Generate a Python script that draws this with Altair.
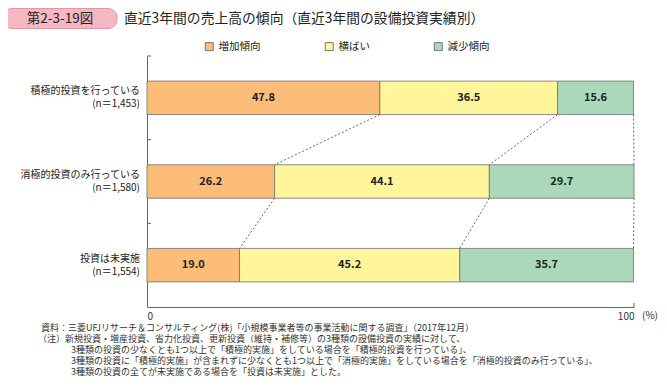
import altair as alt
import pandas as pd

# ---- data ----
categories = ["積極的投資を行っている", "消極的投資のみ行っている", "投資は未実施"]
n_labels = ["(n＝1,453)", "(n＝1,580)", "(n＝1,554)"]
series = ["増加傾向", "横ばい", "減少傾向"]
increase = [47.8, 26.2, 19.0]
flat = [36.5, 44.1, 45.2]
decrease = [15.6, 29.7, 35.7]
x_ticks = [0, 100]
colors = ["#FBBD77", "#FFF59B", "#A9D9B9"]

badge_text = "第2-3-19図"
title_text = "直近3年間の売上高の傾向（直近3年間の設備投資実績別）"
unit_text = "(%)"
notes_a = [
    "資料：三菱UFJリサーチ＆コンサルティング(株)「小規模事業者等の事業活動に関する調査」（2017年12月）",
    "（注）新規投資・増産投資、省力化投資、更新投資（維持・補修等）の3種類の設備投資の実績に対して、",
]
notes_b = [
    "3種類の投資の少なくとも1つ以上で「積極的実施」をしている場合を「積極的投資を行っている」、",
    "3種類の投資に「積極的実施」が含まれずに少なくとも1つ以上で「消極的実施」をしている場合を「消極的投資のみ行っている」、",
    "3種類の投資の全てが未実施である場合を「投資は未実施」とした。",
]

FONT = "Noto Sans CJK JP"
W, H = 487, 251

# ---- tables ----
values = [increase, flat, decrease]
rows = []
cums = []
for i, cat in enumerate(categories):
    start = 0.0
    c = []
    for s, vals in zip(series, values):
        v = vals[i]
        rows.append(dict(cat=cat, idx=i, series=s, value=v, x0=start, x1=start + v,
                         mid=start + v / 2, y0=i - 0.2, y1=i + 0.2, label=f"{v:.1f}"))
        start += v
        c.append(start)
    cums.append(c)
bars_df = pd.DataFrame(rows)

conn = []
for i in range(len(categories) - 1):
    for k in range(len(series)):
        conn.append(dict(x=cums[i][k], x2=cums[i + 1][k], y=i + 0.2, y2=i + 0.8))
conn_df = pd.DataFrame(conn)

cat_df = pd.DataFrame({"cat": categories, "n": n_labels, "idx": list(range(len(categories)))})
ytick_df = pd.DataFrame({"t": [i - 0.5 for i in range(len(categories))]})

xscale = alt.Scale(domain=[0, 100], nice=False, zero=True)
yscale = alt.Scale(domain=[-0.5, len(categories) - 0.5], reverse=True, nice=False, zero=False)

bars = alt.Chart(bars_df).mark_bar(stroke="#707070", strokeWidth=0.8).encode(
    x=alt.X("x0:Q", scale=xscale,
            axis=alt.Axis(values=x_ticks, title=None, ticks=False, grid=False, labelFontSize=10,
                          labelPadding=4, domainColor="#666", labelColor="#333", labelFont=FONT)),
    x2="x1",
    y=alt.Y("y0:Q", scale=yscale,
            axis=alt.Axis(values=[], title=None, labels=False, ticks=False, grid=False, domainColor="#666")),
    y2="y1",
    color=alt.Color("series:N", scale=alt.Scale(domain=series, range=colors),
                    legend=alt.Legend(title=None, orient="none", legendX=57, legendY=-15,
                                      direction="horizontal", symbolType="square", symbolSize=64,
                                      symbolStrokeColor="#777", symbolStrokeWidth=1, symbolOpacity=1,
                                      labelFontSize=10.5, labelFont=FONT, labelColor="#222",
                                      columnPadding=62, labelOffset=4, padding=0)),
)

bar_text = alt.Chart(bars_df).mark_text(font=FONT, fontSize=11, fontWeight=600, color="#222").encode(
    x="mid:Q", y="idx:Q", text="label:N")

connectors = alt.Chart(conn_df).mark_rule(strokeDash=[2, 2], color="#555", strokeWidth=0.9).encode(
    x="x:Q", x2="x2", y="y:Q", y2="y2")

yticks = alt.Chart(ytick_df).mark_rule(color="#666").encode(
    y="t:Q", x=alt.value(0), x2=alt.value(4))

xtick = alt.Chart(pd.DataFrame({"v": [x_ticks[-1]]})).mark_rule(color="#666").encode(
    x="v:Q", y=alt.value(H - 4), y2=alt.value(H))

cat_text = alt.Chart(cat_df).mark_text(font=FONT, fontSize=10, align="right", dy=-6.5, color="#222").encode(
    x=alt.value(-7), y="idx:Q", text="cat:N")
n_text = alt.Chart(cat_df).mark_text(font=FONT, fontSize=10, align="right", dy=6.5, color="#222").encode(
    x=alt.value(-7), y="idx:Q", text="n:N")


def label(text, x, y, size, align="left", color="#222", baseline="middle", **kw):
    return alt.Chart(pd.DataFrame({"t": [text]})).mark_text(
        font=FONT, fontSize=size, align=align, baseline=baseline, color=color, **kw
    ).encode(text="t:N", x=alt.value(x), y=alt.value(y))


badge = alt.Chart(pd.DataFrame({"t": [1]})).mark_rect(
    fill="#F5B8C2", stroke="#E596A5", strokeWidth=1, cornerRadius=9
).encode(x=alt.value(-144), x2=alt.value(-30), y=alt.value(-47.5), y2=alt.value(-27.5))

texts = [
    label(badge_text, -87, -37.3, 13.5, align="center", color="#222"),
    label(title_text, -23, -37.3, 13.8, color="#222"),
    label(unit_text, W + 8, H + 9, 10, color="#333"),
]
NOTE_Y0, NOTE_STEP, NOTE_FS = 272, 11.1, 9
for j, t in enumerate(notes_a):
    texts.append(label(t, -109 if j == 1 else -106, NOTE_Y0 + NOTE_STEP * j, NOTE_FS, color="#333"))
for j, t in enumerate(notes_b):
    texts.append(label(t, -76, NOTE_Y0 + NOTE_STEP * (j + 2), NOTE_FS, color="#333"))

chart = alt.layer(bars, connectors, bar_text, yticks, xtick, cat_text, n_text, badge, *texts).properties(
    width=W, height=H,
    padding={"left": 139, "top": 48, "right": 25, "bottom": 71},
    autosize=alt.AutoSizeParams(type="none"),
).configure_view(stroke=None)

chart.save("out.html", embed_options={"renderer": "svg", "actions": False})
